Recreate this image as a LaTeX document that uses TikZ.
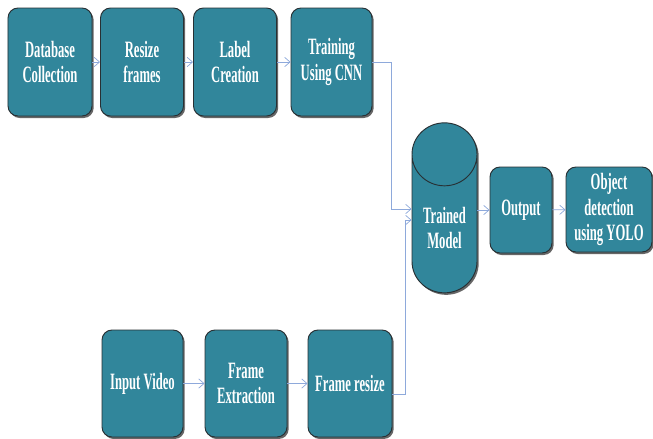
\documentclass[tikz,border=0pt]{standalone}
\usepackage{fontspec}
\newfontfamily\boxfont[FakeStretch=0.54]{Liberation Serif}
\usetikzlibrary{arrows.meta,shapes.geometric,shadows}
\definecolor{boxteal}{RGB}{49,134,155}
\definecolor{boxline}{RGB}{40,48,52}
\definecolor{linkblue}{RGB}{142,169,219}
\begin{document}
\begin{tikzpicture}[x=0.03cm, y=-0.03cm,
	stage/.style={draw=boxline, thick, fill=boxteal, rounded corners=0.3cm,
		text=white, align=center,
		font=\fontsize{20}{21.5}\boxfont\bfseries,
		minimum width=2.49cm, minimum height=3.24cm, inner sep=1pt,
		drop shadow={shadow xshift=0.05cm, shadow yshift=-0.06cm,
			fill=black!75, opacity=0.8}},
	link/.style={draw=linkblue, semithick,
		-{Straight Barb[length=1.6mm, width=2.8mm]}}]
	\useasboundingbox (0,0) rectangle (653,438);
	% Trainingskette oben
	\node[stage, minimum width=2.52cm] (db) at (50,62) {Database\\Collection};
	\node[stage] (resize) at (142,62) {Resize\\frames};
	\node[stage] (label) at (235,62) {Label\\Creation};
	\node[stage, minimum width=2.43cm] (cnn) at (331.5,62) {Training\\Using CNN};
	% Modell und Ausgabe
	\node[stage, cylinder, shape border rotate=90, aspect=1.4,
		rounded corners=0pt, minimum width=1.95cm, minimum height=5.1cm]
		(model) at (444.5,228) {Trained\\Model};
	\node[stage, minimum width=1.86cm, minimum height=2.58cm]
		(output) at (521,210) {Output};
	\node[stage, minimum width=2.58cm, minimum height=2.55cm]
		(yolo) at (609,209.5) {Object\\detection\\using YOLO};
	% Videokette unten
	\node[stage, minimum width=2.43cm, minimum height=3.21cm]
		(video) at (142.5,383.5) {Input Video};
	\node[stage, minimum width=2.46cm, minimum height=3.21cm]
		(extract) at (246,383.5) {Frame\\Extraction};
	\node[stage, minimum width=2.52cm, minimum height=3.21cm]
		(fresize) at (350,383.5) {Frame resize};
	% Verbindungen
	\draw[link] (db) -- (resize);
	\draw[link] (resize) -- (label);
	\draw[link] (label) -- (cnn);
	\draw[link] (cnn.east) -- ++(19,0) |- ([yshift=0.57cm]model.west);
	\draw[link] (model.east |- output) -- (output);
	\draw[link] (output) -- (yolo);
	\draw[link] (video) -- (extract);
	\draw[link] (extract) -- (fresize);
	\draw[link] ([yshift=-0.33cm]fresize.east) -- ++(13,0)
		|- ([yshift=0.24cm]model.west);
\end{tikzpicture}
\end{document}
